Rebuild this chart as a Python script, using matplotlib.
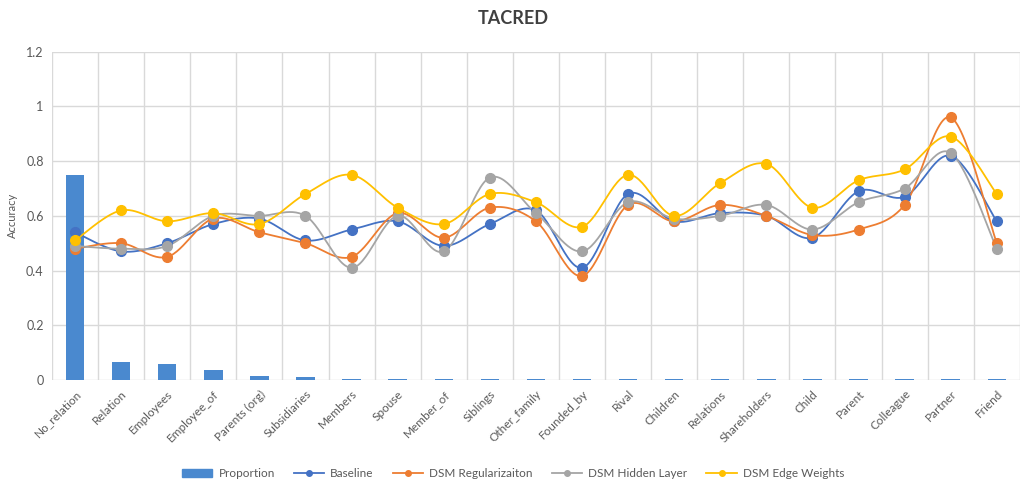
"""
TACRED per-relation accuracy vs. relation proportion
"""

import numpy as np
import matplotlib
matplotlib.use("Agg")
import matplotlib.pyplot as plt
from matplotlib.patches import Patch
from matplotlib.lines import Line2D

plt.rcParams['font.family'] = ['Lato', 'DejaVu Sans']

relations = ["No_relation", "Relation", "Employees", "Employee_of", "Parents (org)",
             "Subsidiaries", "Members", "Spouse", "Member_of", "Siblings",
             "Other_family", "Founded_by", "Rival", "Children", "Relations",
             "Shareholders", "Child", "Parent", "Colleague", "Partner", "Friend"]

proportion = [0.75, 0.065, 0.06, 0.038, 0.016, 0.011, 0.004, 0.004, 0.004, 0.004,
              0.004, 0.004, 0.004, 0.004, 0.004, 0.004, 0.004, 0.004, 0.004, 0.004, 0.004]

baseline = [0.54, 0.47, 0.50, 0.57, 0.59, 0.51, 0.55, 0.58, 0.49, 0.57, 0.62,
            0.41, 0.68, 0.58, 0.61, 0.60, 0.52, 0.69, 0.67, 0.82, 0.58]
dsm_reg = [0.48, 0.50, 0.45, 0.59, 0.54, 0.50, 0.45, 0.61, 0.52, 0.63, 0.58,
           0.38, 0.64, 0.58, 0.64, 0.60, 0.53, 0.55, 0.64, 0.96, 0.50]
dsm_hidden = [0.49, 0.48, 0.49, 0.60, 0.60, 0.60, 0.41, 0.60, 0.47, 0.74, 0.61,
              0.47, 0.65, 0.59, 0.60, 0.64, 0.55, 0.65, 0.70, 0.83, 0.48]
dsm_edge = [0.51, 0.62, 0.58, 0.61, 0.57, 0.68, 0.75, 0.63, 0.57, 0.68, 0.65,
            0.56, 0.75, 0.60, 0.72, 0.79, 0.63, 0.73, 0.77, 0.89, 0.68]

series = [
    ("Baseline", baseline, "#4472C4"),
    ("DSM Regularizaiton", dsm_reg, "#ED7D31"),
    ("DSM Hidden Layer", dsm_hidden, "#A5A5A5"),
    ("DSM Edge Weights", dsm_edge, "#FFC000"),
]


def smooth(x, y, n=30):
    # Excel-style smoothed line: cubic bezier with control points from neighbours
    x = np.asarray(x, float)
    y = np.asarray(y, float)
    xs, ys = [], []
    t = np.linspace(0, 1, n)
    for i in range(len(x) - 1):
        p0 = np.array([x[i], y[i]])
        p3 = np.array([x[i + 1], y[i + 1]])
        prev = np.array([x[i - 1], y[i - 1]]) if i > 0 else p0
        nxt = np.array([x[i + 2], y[i + 2]]) if i + 2 < len(x) else p3
        p1 = p0 + (p3 - prev) / 6
        p2 = p3 - (nxt - p0) / 6
        b = ((1 - t) ** 3)[:, None] * p0 + (3 * (1 - t) ** 2 * t)[:, None] * p1 \
            + (3 * (1 - t) * t ** 2)[:, None] * p2 + (t ** 3)[:, None] * p3
        xs.extend(b[:, 0])
        ys.extend(b[:, 1])
    return xs, ys


fig = plt.figure(figsize=(10.26, 4.84), dpi=100)
ax = fig.add_axes([0.0507, 0.215, 0.9433, 0.678])

x = np.arange(len(relations))
ax.bar(x, proportion, width=0.4, color="#4A89CF", zorder=2)

for name, vals, col in series:
    sx, sy = smooth(x, vals)
    ax.plot(sx, sy, color=col, lw=1.3, zorder=3)
    ax.plot(x, vals, 'o', color=col, ms=7, zorder=4)

ax.set_xlim(-0.5, len(relations) - 0.5)
ax.set_ylim(0, 1.2)
ax.set_yticks(np.arange(0, 1.21, 0.2))
ax.set_yticklabels(["0", "0.2", "0.4", "0.6", "0.8", "1", "1.2"])
for yv in np.arange(0.2, 1.21, 0.2):
    ax.axhline(yv, color="#D9D9D9", lw=1, zorder=1)
for xv in np.arange(-0.5, len(relations), 1.0):
    ax.axvline(xv, color="#D9D9D9", lw=1, zorder=1)

ax.set_xticks(x)
ax.set_xticklabels(relations, rotation=45, ha="right", rotation_mode="anchor",
                   fontsize=8.5, color="#595959")
ax.tick_params(axis="y", labelsize=9, labelcolor="#595959", length=0, pad=6)
ax.tick_params(axis="x", length=0, pad=6)
for s in ax.spines.values():
    s.set_visible(False)
ax.axhline(0, color="#D9D9D9", lw=1, zorder=1)
ax.set_ylabel("Accuracy", fontsize=8, color="#595959", labelpad=6)

fig.text(0.5, 0.962, "TACRED", ha="center", va="center", fontsize=13,
         fontweight="bold", color="#404040")

handles = [Patch(color="#4A89CF", label="Proportion")]
for name, vals, col in series:
    handles.append(Line2D([0], [0], color=col, marker="o", ms=4, lw=1.3, label=name))
fig.legend(handles=handles, loc="center", bbox_to_anchor=(0.5, 0.022), ncol=5,
           frameon=False, fontsize=8.5, handlelength=2.6, columnspacing=1.6,
           handletextpad=0.5, labelcolor="#595959")

fig.savefig("out.png", dpi=100)
